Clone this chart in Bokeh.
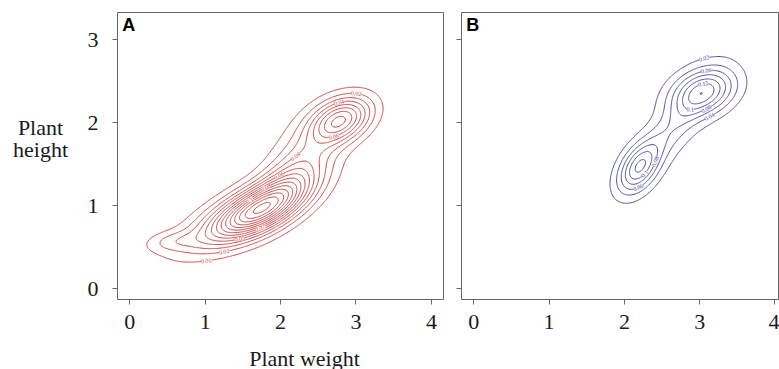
import numpy as np
from contourpy import contour_generator
from bokeh.plotting import figure
from bokeh.layouts import row, column
from bokeh.models import Label, LabelSet, ColumnDataSource, FixedTicker, Range1d
from bokeh.embed import file_html
from bokeh.resources import INLINE

# ---- data ----
x_ticks = [0, 1, 2, 3, 4]
y_ticks = [0, 1, 2, 3]
x_label = "Plant weight"
y_label_lines = ["Plant", "height"]
panel_names = ["A", "B"]

levels_a = [0.01, 0.02, 0.03, 0.04, 0.05, 0.06, 0.07, 0.08, 0.09, 0.10, 0.11, 0.12, 0.13, 0.14]
levels_b = [0.02, 0.04, 0.06, 0.08, 0.10, 0.12, 0.14]

# density components (centre x, centre y, sd major, sd minor, angle, peak)
a_cx = [1.68, 2.10, 1.35, 2.80, 2.30, 0.55]
a_cy = [0.93, 1.25, 0.85, 2.03, 1.60, 0.57]
a_sa = [0.46, 0.45, 0.70, 0.29, 0.45, 0.25]
a_sb = [0.17, 0.20, 0.20, 0.17, 0.27, 0.085]
a_ang = [24, 42, 26, 22, 50, 5]
a_amp = [0.108, 0.030, 0.020, 0.075, 0.020, 0.016]

# density components
b_cx = [3.05, 2.19, 2.60, 2.75]
b_cy = [2.37, 1.45, 1.90, 2.05]
b_sa = [0.30, 0.24, 0.45, 0.80]
b_sb = [0.18, 0.15, 0.14, 0.28]
b_ang = [15, 52, 45, 50]
b_amp = [0.11, 0.10, 0.035, 0.02]

# contour labels: level and approximate place where the label sits
a_lab_level = [0.01, 0.02, 0.05, 0.07, 0.10, 0.08, 0.06, 0.04, 0.02, 0.04, 0.06]
a_lab_x = [1.00, 1.23, 1.44, 1.73, 1.60, 1.84, 2.03, 2.26, 2.99, 2.79, 2.70]
a_lab_y = [0.44, 0.57, 0.69, 0.72, 1.04, 1.14, 1.28, 1.51, 2.28, 2.18, 1.83]

b_lab_level = [0.02, 0.06, 0.12, 0.10, 0.08, 0.04, 0.08, 0.10, 0.06]
b_lab_x = [3.05, 3.08, 3.05, 2.88, 3.12, 3.17, 2.29, 2.26, 2.18]
b_lab_y = [2.81, 2.64, 2.47, 2.18, 2.12, 2.00, 1.57, 1.39, 1.21]

grid_x = np.linspace(-0.2, 4.3, 320)
grid_y = np.linspace(-0.2, 3.4, 280)


def surface(cx, cy, sa, sb, ang, amp):
    X, Y = np.meshgrid(grid_x, grid_y)
    Z = np.zeros_like(X)
    for mx, my, s1, s2, a, h in zip(cx, cy, sa, sb, ang, amp):
        t = np.radians(a)
        dx, dy = X - mx, Y - my
        u = dx * np.cos(t) + dy * np.sin(t)
        v = -dx * np.sin(t) + dy * np.cos(t)
        Z += h * np.exp(-0.5 * (u ** 2 / s1 ** 2 + v ** 2 / s2 ** 2))
    return Z


def label_source(Z, lev, lx, ly, xscale, yscale):
    gen = contour_generator(grid_x, grid_y, Z)
    xs, ys, angs, txt = [], [], [], []
    for L, tx, ty in zip(lev, lx, ly):
        best = None
        for seg in gen.lines(L):
            d = ((seg[:, 0] - tx) * xscale) ** 2 + ((seg[:, 1] - ty) * yscale) ** 2
            i = int(d.argmin())
            if best is None or d[i] < best[0]:
                best = (d[i], seg, i)
        _, seg, i = best
        j0, j1 = max(i - 2, 0), min(i + 2, len(seg) - 1)
        ddx = (seg[j1, 0] - seg[j0, 0]) * xscale
        ddy = (seg[j1, 1] - seg[j0, 1]) * yscale
        a = np.arctan2(ddy, ddx)
        if a > np.pi / 2:
            a -= np.pi
        if a < -np.pi / 2:
            a += np.pi
        xs.append(seg[i, 0]); ys.append(seg[i, 1]); angs.append(a); txt.append(f"{L:g}")
    return ColumnDataSource(dict(x=xs, y=ys, angle=angs, text=txt))


SERIF = "Liberation Serif"
FRAME = "#666666"
TEXT = "#1a1a1a"
RED = "#c94a4a"
BLUE = "#50509a"


def style(p, show_y_labels):
    p.outline_line_color = FRAME
    p.outline_line_width = 1
    p.xgrid.visible = False
    p.ygrid.visible = False
    p.background_fill_color = "white"
    p.border_fill_color = "white"
    for ax in (p.xaxis[0], p.yaxis[0]):
        ax.axis_line_color = None
        ax.major_tick_in = 0
        ax.major_tick_out = 5
        ax.major_tick_line_color = FRAME
        ax.minor_tick_line_color = None
        ax.major_label_text_font = SERIF
        ax.major_label_text_font_size = "22px"
        ax.major_label_text_color = TEXT
    p.xaxis.ticker = FixedTicker(ticks=x_ticks)
    p.yaxis.ticker = FixedTicker(ticks=y_ticks)
    p.xaxis.major_label_standoff = 10
    p.yaxis.major_label_standoff = 14
    if not show_y_labels:
        p.yaxis.major_label_overrides = {t: "" for t in y_ticks}
        p.yaxis.major_label_standoff = 0


def text_panel(w, h):
    p = figure(width=w, height=h, x_range=Range1d(0, w), y_range=Range1d(0, h),
               x_axis_type=None, y_axis_type=None, min_border=0,
               output_backend="svg", toolbar_location=None)
    p.outline_line_color = None
    p.xgrid.visible = False
    p.ygrid.visible = False
    p.background_fill_color = "white"
    p.border_fill_color = "white"
    return p


H = 345
YL_W = 75
XSC, YSC = 75.4, 83.1  # pixels per unit, used to orient labels

# left title panel: "Plant / height"
pl = text_panel(YL_W, H)
pl.add_layout(Label(x=40, y=H - 138, text=y_label_lines[0], text_font=SERIF, text_font_size="22px",
                    text_color=TEXT, text_align="center", text_baseline="alphabetic"))
pl.add_layout(Label(x=40, y=H - 165, text=y_label_lines[1], text_font=SERIF, text_font_size="22px",
                    text_color=TEXT, text_align="center", text_baseline="alphabetic"))

pa = figure(width=444 - YL_W, height=H, x_range=Range1d(-0.163, 4.174), y_range=Range1d(-0.129, 3.325),
            min_border_left=117 - YL_W, min_border_right=0, min_border_top=12, min_border_bottom=H - 299,
            output_backend="svg", toolbar_location=None)
style(pa, True)
za = surface(a_cx, a_cy, a_sa, a_sb, a_ang, a_amp)
pa.contour(x=grid_x, y=grid_y, z=za, levels=levels_a, line_color=RED, line_width=1.0)
pa.add_layout(LabelSet(x="x", y="y", text="text", angle="angle",
                       source=label_source(za, a_lab_level, a_lab_x, a_lab_y, XSC, YSC),
                       text_font="Liberation Sans", text_font_size="6px", text_color="#d03030",
                       text_align="center", text_baseline="middle", background_fill_color="white"))

pb = figure(width=335, height=H, x_range=Range1d(-0.163, 4.06), y_range=Range1d(-0.129, 3.325),
            min_border_left=17, min_border_right=0, min_border_top=12, min_border_bottom=H - 299,
            output_backend="svg", toolbar_location=None)
style(pb, False)
zb = surface(b_cx, b_cy, b_sa, b_sb, b_ang, b_amp)
pb.contour(x=grid_x, y=grid_y, z=zb, levels=levels_b, line_color=BLUE, line_width=1.0)
pb.add_layout(LabelSet(x="x", y="y", text="text", angle="angle",
                       source=label_source(zb, b_lab_level, b_lab_x, b_lab_y, XSC, YSC),
                       text_font="Liberation Sans", text_font_size="6px", text_color="#3a3ab0",
                       text_align="center", text_baseline="middle", background_fill_color="white"))

for p, name in zip((pa, pb), panel_names):
    p.add_layout(Label(x=-0.10, y=3.29, text=name, text_font="Liberation Sans", text_font_style="bold",
                       text_font_size="18px", text_color="black", text_baseline="top", text_align="left"))

# bottom title panel: "Plant weight"
XL_H = 369 - H
px = text_panel(779, XL_H)
px.add_layout(Label(x=304, y=-1, text=x_label, text_font=SERIF, text_font_size="22px",
                    text_color=TEXT, text_align="center", text_baseline="bottom"))

layout = column(row(pl, pa, pb, spacing=0), px, spacing=0)
open("out.html", "w").write(file_html(layout, INLINE))
